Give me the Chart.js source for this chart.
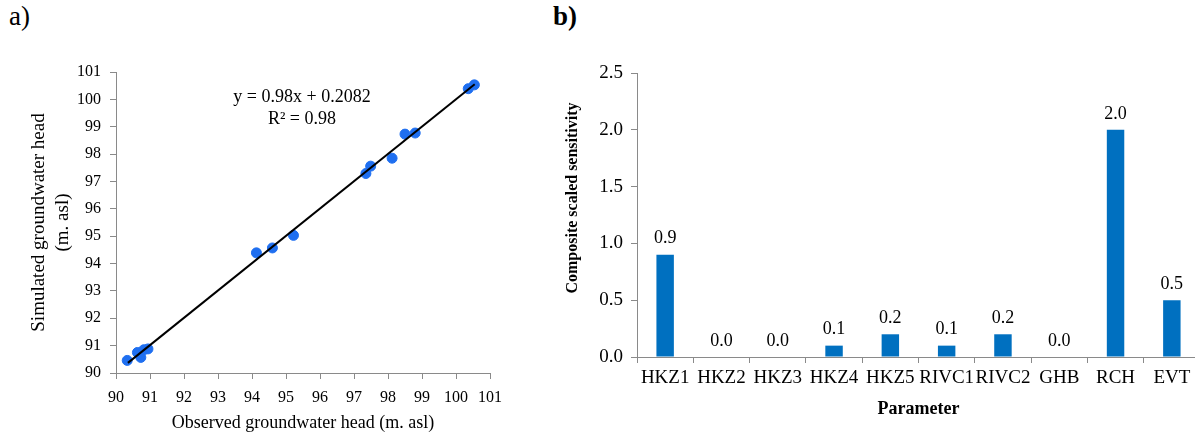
<!DOCTYPE html>
<html>
<head>
<meta charset="utf-8">
<script src="https://cdn.jsdelivr.net/npm/chart.js@4.4.0/dist/chart.umd.min.js"></script>
<style>
  body { margin: 0; width: 1195px; height: 434px; overflow: hidden; background: #fff; position: relative; }
  .panel { position: absolute; top: 0; }
  .tag { position: absolute; top: 3px; font-family: "Liberation Serif", "Times New Roman", serif; font-size: 27px; line-height: 1; color: #000; }
</style>
</head>
<body>
<div class="tag" style="left:9px;">a)</div>
<div class="tag" style="left:553px;font-weight:bold;">b)</div>
<canvas id="scatterChart" class="panel" style="left:0" width="550" height="434"></canvas>
<canvas id="sensChart" class="panel" style="left:550px" width="660" height="434"></canvas>
<script>
// observed vs simulated heads (m. asl)
const observedHead = [90.33, 90.63, 90.73, 90.82, 90.94, 94.13, 94.60, 95.22, 97.35, 97.49, 98.12, 98.50, 98.80, 100.36, 100.54];
const simulatedHead = [90.46, 90.75, 90.57, 90.85, 90.88, 94.39, 94.57, 95.03, 97.29, 97.56, 97.85, 98.73, 98.77, 100.39, 100.53];
// end points of the fitted trend line
const trendX = [90.35, 100.55];
const trendY = [90.37, 100.55];
const headTicks = [90, 91, 92, 93, 94, 95, 96, 97, 98, 99, 100, 101];

// composite scaled sensitivity per parameter
const parameters = ['HKZ1', 'HKZ2', 'HKZ3', 'HKZ4', 'HKZ5', 'RIVC1', 'RIVC2', 'GHB', 'RCH', 'EVT'];
const sensitivity = [0.9, 0.0, 0.0, 0.1, 0.2, 0.1, 0.2, 0.0, 2.0, 0.5];

const serif = '"Liberation Serif", "Times New Roman", serif';
const axisGrey = '#8a8a8a';

// texte de l'équation de régression
const equationPlugin = {
    id: 'equation',
    afterDatasetsDraw(chart) {
        const ctx = chart.ctx;
        const xs = chart.scales.x, ys = chart.scales.y;
        ctx.save();
        ctx.font = '18px ' + serif;
        ctx.fillStyle = '#000';
        ctx.textAlign = 'center';
        ctx.textBaseline = 'middle';
        ctx.fillText('y = 0.98x + 0.2082', xs.getPixelForValue(95.47), ys.getPixelForValue(100.09));
        ctx.fillText('R² = 0.98', xs.getPixelForValue(95.47), ys.getPixelForValue(99.29));
        ctx.restore();
    }
};

const scatterPoints = observedHead.map((x, i) => ({ x: x, y: simulatedHead[i] }));
const trendPoints = trendX.map((x, i) => ({ x: x, y: trendY[i] }));

new Chart(document.getElementById('scatterChart'), {
    type: 'scatter',
    data: {
        datasets: [{
            type: 'line',
            data: trendPoints,
            borderColor: '#000',
            borderWidth: 2,
            pointRadius: 0,
            fill: false,
            order: 0
        }, {
            data: scatterPoints,
            backgroundColor: '#1f6ff0',
            borderColor: '#1f6ff0',
            pointRadius: 5,
            pointBorderWidth: 1,
            order: 1
        }]
    },
    options: {
        responsive: false,
        animation: false,
        layout: { padding: { left: 0, top: 72, right: 60, bottom: 0 } },
        plugins: { legend: { display: false }, tooltip: { enabled: false } },
        scales: {
            x: {
                type: 'linear', min: 90, max: 101,
                afterBuildTicks: s => { s.ticks = headTicks.map(v => ({ value: v })); },
                afterFit: s => { s.height = 61; },
                grid: { drawOnChartArea: false, drawTicks: true, tickLength: 6, color: axisGrey },
                border: { color: axisGrey },
                ticks: { font: { family: serif, size: 16 }, color: '#000', padding: 9, maxRotation: 0, autoSkip: false },
                title: { display: true, text: 'Observed groundwater head (m. asl)', font: { family: serif, size: 18, lineHeight: 1.1 }, color: '#000', padding: { top: 0, bottom: 1 } }
            },
            y: {
                type: 'linear', min: 90, max: 101,
                afterBuildTicks: s => { s.ticks = headTicks.map(v => ({ value: v })); },
                afterFit: s => { s.width = 116; },
                grid: { drawOnChartArea: false, drawTicks: true, tickLength: 6, color: axisGrey },
                border: { color: axisGrey },
                ticks: { font: { family: serif, size: 16 }, color: '#000', padding: 9, autoSkip: false },
                title: { display: true, text: ['Simulated groundwater head', '(m. asl)'], font: { family: serif, size: 19, lineHeight: 1.25 }, color: '#000', padding: { top: 27, bottom: 0 } }
            }
        }
    },
    plugins: [equationPlugin]
});

// étiquettes de valeur au-dessus des barres + titre vertical décalé
const barLabelPlugin = {
    id: 'barLabels',
    afterDatasetsDraw(chart) {
        const ctx = chart.ctx;
        const meta = chart.getDatasetMeta(0);
        ctx.save();
        ctx.font = '18px ' + serif;
        ctx.fillStyle = '#000';
        ctx.textAlign = 'center';
        ctx.textBaseline = 'bottom';
        meta.data.forEach((bar, i) => {
            ctx.fillText(sensitivity[i].toFixed(1), bar.x, bar.y - 7);
        });
        // axis title sits a bit above the middle of the axis
        ctx.translate(23, chart.scales.y.getPixelForValue(1.4));
        ctx.rotate(-Math.PI / 2);
        ctx.font = 'bold 16px ' + serif;
        ctx.textBaseline = 'middle';
        ctx.fillText('Composite scaled sensitivity', 0, 0);
        ctx.restore();
    }
};

new Chart(document.getElementById('sensChart'), {
    type: 'bar',
    data: {
        labels: parameters,
        datasets: [{
            data: sensitivity,
            backgroundColor: '#0070c0',
            borderWidth: 0,
            barPercentage: 0.31,
            categoryPercentage: 1.0
        }]
    },
    options: {
        responsive: false,
        animation: false,
        layout: { padding: { left: 0, top: 73, right: 10, bottom: 0 } },
        plugins: { legend: { display: false }, tooltip: { enabled: false } },
        scales: {
            x: {
                afterFit: s => { s.height = 77; },
                grid: { offset: true, drawOnChartArea: false, drawTicks: true, tickLength: 6, color: axisGrey },
                border: { color: axisGrey },
                ticks: { font: { family: serif, size: 19 }, color: '#000', padding: 4, maxRotation: 0, autoSkip: false },
                title: { display: true, text: 'Parameter', font: { family: serif, size: 18, weight: 'bold', lineHeight: 1.2 }, color: '#000', padding: { top: 0, bottom: 14 } }
            },
            y: {
                min: 0, max: 2.5,
                ticks: { stepSize: 0.5, callback: v => v.toFixed(1), font: { family: serif, size: 19 }, color: '#000', padding: 8 },
                afterFit: s => { s.width = 87; },
                grid: { drawOnChartArea: false, drawTicks: true, tickLength: 6, color: axisGrey },
                border: { color: axisGrey }
            }
        }
    },
    plugins: [barLabelPlugin]
});
</script>
</body>
</html>
